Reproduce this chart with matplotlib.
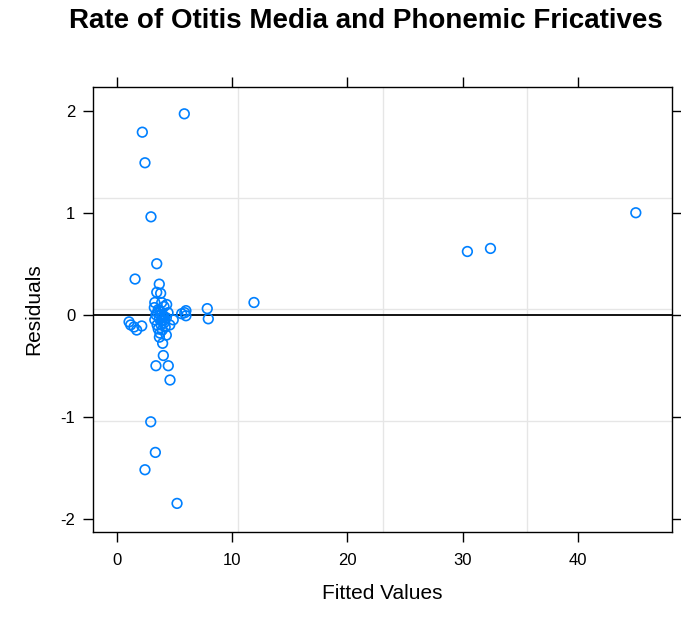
import numpy as np
import matplotlib
matplotlib.use("Agg")
import matplotlib.pyplot as plt

plt.rcParams['font.family'] = ['Liberation Sans', 'DejaVu Sans']
plt.rcParams['axes.unicode_minus'] = False

# fitted values and residuals
fitted = [5.86, 2.22, 2.45, 2.97,
          30.4, 32.4, 45.0, 11.9, 7.85, 7.94,
          2.95, 3.35, 2.45, 5.23,
          3.47, 1.59, 3.69, 3.47, 3.81, 3.30, 4.33, 3.26, 6.00, 5.63, 6.00, 5.90,
          1.07, 1.21, 1.73, 2.17, 1.50,
          3.98, 4.04, 3.40, 4.47, 4.62,
          3.60, 3.80, 3.90, 4.00, 3.70, 3.85, 4.10, 3.50, 3.60, 4.20, 3.75,
          4.30, 4.45, 4.60, 4.90, 3.90, 4.10, 3.40, 3.30, 4.30, 3.95,
          3.70, 4.05, 3.55, 4.15, 3.85]
resid = [1.97, 1.79, 1.49, 0.96,
         0.62, 0.65, 1.00, 0.12, 0.06, -0.04,
         -1.05, -1.35, -1.52, -1.85,
         0.50, 0.35, 0.30, 0.22, 0.21, 0.12, 0.10, 0.07, 0.04, 0.01, -0.01, 0.02,
         -0.07, -0.10, -0.15, -0.11, -0.12,
         -0.28, -0.40, -0.50, -0.50, -0.64,
         0.05, 0.03, 0.00, -0.02, -0.04, -0.06, -0.08, -0.10, -0.14, -0.12, -0.18,
         -0.03, 0.02, -0.10, -0.05, 0.12, 0.08, 0.00, -0.05, -0.20, -0.15,
         -0.22, -0.01, 0.02, -0.05, -0.10]

x_ticks = [0, 10, 20, 30, 40]
y_ticks = [-2, -1, 0, 1, 2]

fig = plt.figure(figsize=(6.81, 6.2), dpi=100)
ax = fig.add_axes([0.137, 0.142, 0.850, 0.718])

xlim = (-2.03, 48.15)
ylim = (-2.13, 2.235)
ax.set_xlim(xlim)
ax.set_ylim(ylim)

# lattice style grid: 3 evenly spaced lines each way
for f in [0.25, 0.5, 0.75]:
    ax.axvline(xlim[0] + f * (xlim[1] - xlim[0]), color='#e6e6e6', lw=1, zorder=0)
    ax.axhline(ylim[0] + f * (ylim[1] - ylim[0]), color='#e6e6e6', lw=1, zorder=0)

ax.axhline(0, color='black', lw=1.3, zorder=1)
ax.scatter(fitted, resid, s=48, facecolors='none', edgecolors='#0080ff',
           linewidths=1.2, zorder=2)

ax.set_xticks(x_ticks)
ax.set_yticks(y_ticks)
ax.tick_params(direction='out', length=7, width=1, labelsize=12, colors='black',
               top=True, right=True, labeltop=False, labelright=False)
ax.tick_params(axis='x', pad=8)
ax.tick_params(axis='y', pad=6)
for sp in ax.spines.values():
    sp.set_linewidth(1)

ax.set_xlabel('Fitted Values', fontsize=15, labelpad=12)
ax.set_ylabel('Residuals', fontsize=15, labelpad=12)

fig.text(0.537, 0.966, 'Rate of Otitis Media and Phonemic Fricatives',
         fontsize=20, fontweight='bold', ha='center', va='center')

fig.savefig('out.png', dpi=100)
